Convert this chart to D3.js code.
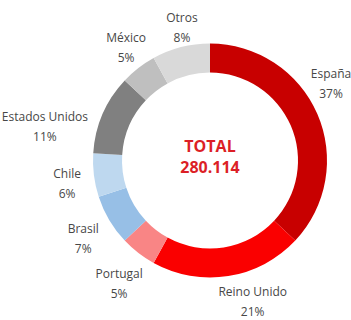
<!DOCTYPE html>
<html>
<head>
<meta charset="utf-8">
<script src="https://cdn.jsdelivr.net/npm/d3@7"></script>
<style>
  body { margin: 0; background: #fff; }
  svg { display: block; }
</style>
</head>
<body>
<svg width="351" height="320"></svg>
<script>
// data
const countries = ["España", "Reino Unido", "Portugal", "Brasil", "Chile", "Estados Unidos", "México", "Otros"]
const shares = [37, 21, 5, 7, 6, 11, 5, 8]
const colors = ["#c80000", "#fa0000", "#f98585", "#97bfe6", "#bed8ef", "#808080", "#bfbfbf", "#d9d9d9"]
const totalLabel = "TOTAL"
const totalValue = "280.114"

// small hand tweaks so labels sit where the original puts them
const labelNudge = [[-12, -19], [20, -2], [-2, 8], [-2, 4], [1, 5], [-32, 24], [5, 2], [8, 7]]

let svg = d3.select("svg")
let cx = 210, cy = 160.5

let g = svg.append("g")
  .attr("transform", "translate(" + cx + "," + cy + ")")

let rows = countries.map((c, i) => ({ name: c, value: shares[i], i: i }))

let pie = d3.pie()
  .value(d => d.value)
  .sort(null)

let arc = d3.arc()
  .innerRadius(88)
  .outerRadius(117)

let labelArc = d3.arc()
  .innerRadius(145)
  .outerRadius(145)

let arcs = pie(rows)

g.selectAll("path")
  .data(arcs)
  .join("path")
  .attr("d", arc)
  .attr("fill", d => colors[d.data.i])

let labels = g.selectAll("g.lbl")
  .data(arcs)
  .join("g")
  .attr("class", "lbl")
  .attr("transform", d => {
    let p = labelArc.centroid(d)
    let n = labelNudge[d.data.i]
    return "translate(" + (p[0] + n[0]) + "," + (p[1] + n[1]) + ")"
  })

labels.append("text")
  .attr("text-anchor", "middle")
  .attr("y", -5.5)
  .attr("font-family", "Open Sans")
  .attr("font-size", "12px")
  .attr("fill", "#474747")
  .text(d => d.data.name)

labels.append("text")
  .attr("text-anchor", "middle")
  .attr("y", 14.5)
  .attr("font-family", "Open Sans")
  .attr("font-size", "12px")
  .attr("fill", "#474747")
  .text(d => d.data.value + "%")

g.append("text")
  .attr("text-anchor", "middle")
  .attr("y", -9)
  .attr("font-family", "Open Sans")
  .attr("font-weight", "bold")
  .attr("font-size", "16px")
  .attr("fill", "#dc1f26")
  .text(totalLabel)

g.append("text")
  .attr("text-anchor", "middle")
  .attr("y", 12.5)
  .attr("font-family", "Open Sans")
  .attr("font-weight", "bold")
  .attr("font-size", "16px")
  .attr("fill", "#dc1f26")
  .text(totalValue)
</script>
</body>
</html>
